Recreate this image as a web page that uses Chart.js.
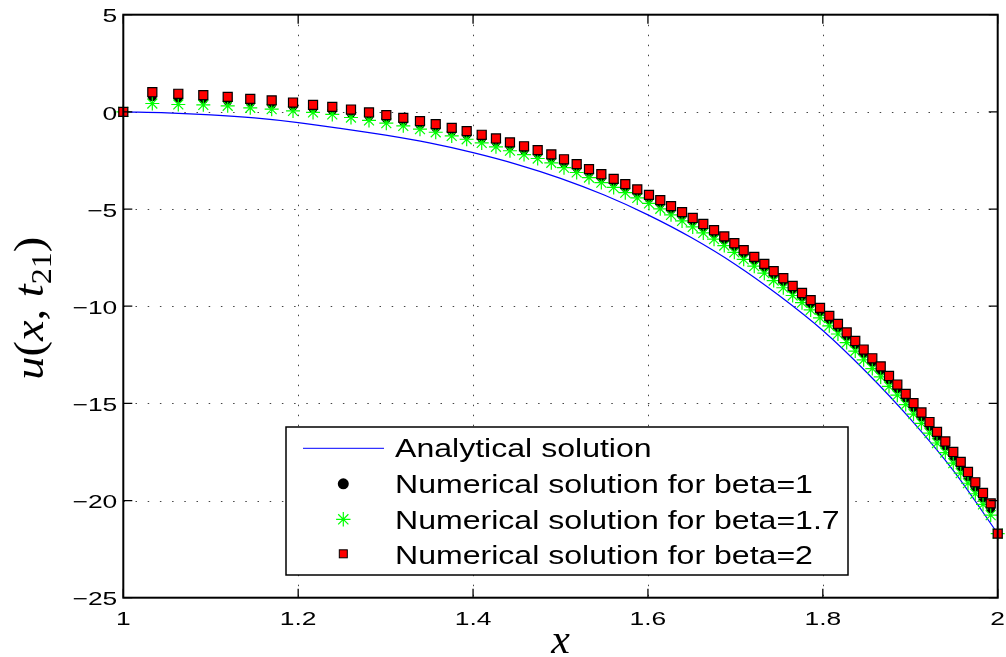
<!DOCTYPE html>
<html>
<head>
<meta charset="utf-8">
<script src="https://cdn.jsdelivr.net/npm/chart.js@4.4.0/dist/chart.umd.min.js"></script>
<style>
html, body { margin: 0; padding: 0; background: #fff; }
#wrap { width: 1006px; height: 657px; position: relative; }
</style>
</head>
<body>
<div id="wrap"><canvas id="uChart"></canvas></div>
<script>
// grid nodes of the numerical schemes
var xNodes = [1,
  1.0332, 1.0629, 1.0915, 1.1194, 1.1452, 1.1697, 1.1941, 1.2170, 1.2390,
  1.2604, 1.2810, 1.3008, 1.3202, 1.3393, 1.3573, 1.3756, 1.3927, 1.4099, 1.4262,
  1.4422, 1.4583, 1.4739, 1.4895, 1.5040, 1.5185, 1.5326, 1.5467, 1.5608, 1.5741,
  1.5878, 1.6012, 1.6141, 1.6264, 1.6390, 1.6512, 1.6633, 1.6756, 1.6873, 1.6988,
  1.7095, 1.7216, 1.7331, 1.7438, 1.7548, 1.7655, 1.7762, 1.7861, 1.7968, 1.8074,
  1.8173, 1.8273, 1.8371, 1.8467, 1.8566, 1.8662, 1.8757, 1.8852, 1.8948, 1.9037,
  1.9128, 1.9220, 1.9306, 1.9401, 1.9492, 1.9577, 1.9660, 1.9744, 1.9832, 1.9920,
  2];

var uBeta1 = [0,
  0.78, 0.70, 0.63, 0.55, 0.46, 0.38, 0.28, 0.17, 0.07,
  -0.07, -0.22, -0.36, -0.50, -0.67, -0.82, -1.01, -1.18, -1.37, -1.56,
  -1.76, -1.96, -2.16, -2.38, -2.63, -2.88, -3.14, -3.40, -3.64, -3.91,
  -4.18, -4.46, -4.73, -5.04, -5.35, -5.65, -5.96, -6.28, -6.60, -6.95,
  -7.31, -7.65, -8.01, -8.39, -8.76, -9.16, -9.52, -9.89, -10.29, -10.70,
  -11.11, -11.55, -11.99, -12.44, -12.89, -13.31, -13.80, -14.25, -14.73, -15.21,
  -15.70, -16.19, -16.70, -17.20, -17.74, -18.26, -18.78, -19.32, -19.87, -20.42,
  -21.7];

var uBeta17 = [0,
  0.43, 0.38, 0.36, 0.31, 0.21, 0.14, 0.05, -0.03, -0.13,
  -0.29, -0.44, -0.58, -0.72, -0.89, -1.05, -1.24, -1.41, -1.60, -1.80,
  -2.00, -2.20, -2.40, -2.62, -2.87, -3.12, -3.38, -3.64, -3.89, -4.16,
  -4.43, -4.71, -4.99, -5.30, -5.61, -5.92, -6.23, -6.55, -6.88, -7.23,
  -7.59, -7.94, -8.30, -8.68, -9.05, -9.45, -9.82, -10.19, -10.60, -11.01,
  -11.43, -11.87, -12.31, -12.76, -13.21, -13.64, -14.13, -14.58, -15.06, -15.55,
  -16.03, -16.53, -17.04, -17.53, -18.08, -18.59, -19.11, -19.65, -20.20, -20.75,
  -21.7];

var uBeta2 = [0,
  1.01, 0.93, 0.86, 0.77, 0.67, 0.59, 0.48, 0.36, 0.26,
  0.12, -0.03, -0.17, -0.31, -0.48, -0.63, -0.82, -0.99, -1.18, -1.37,
  -1.57, -1.77, -1.97, -2.19, -2.44, -2.69, -2.95, -3.21, -3.45, -3.72,
  -3.99, -4.27, -4.54, -4.85, -5.16, -5.46, -5.77, -6.09, -6.41, -6.76,
  -7.12, -7.46, -7.82, -8.20, -8.56, -8.96, -9.32, -9.69, -10.09, -10.50,
  -10.91, -11.35, -11.79, -12.23, -12.68, -13.10, -13.59, -14.03, -14.51, -14.99,
  -15.47, -15.96, -16.47, -16.96, -17.50, -18.01, -18.53, -19.06, -19.61, -20.15,
  -21.7];

// analytical solution, sampled off the blue curve
var xExact = [1, 1.05, 1.1, 1.15, 1.2, 1.25, 1.3, 1.35, 1.4, 1.45, 1.5,
  1.55, 1.6, 1.65, 1.7, 1.75, 1.8, 1.85, 1.9, 1.95, 2];
var uExact = [0, -0.05, -0.15, -0.31, -0.55, -0.86, -1.20, -1.60, -2.10, -2.70, -3.42,
  -4.28, -5.30, -6.48, -7.85, -9.45, -11.25, -13.40, -15.80, -18.50, -21.7];

var xTicks = [1, 1.2, 1.4, 1.6, 1.8, 2];
var xTickLabels = ['1', '1.2', '1.4', '1.6', '1.8', '2'];
var yTicks = [5, 0, -5, -10, -15, -20, -25];
var yTickLabels = ['5', '0', '\u22125', '\u221210', '\u221215', '\u221220', '\u221225'];

var legendLabels = ['Analytical solution', 'Numerical solution for beta=1',
  'Numerical solution for beta=1.7', 'Numerical solution for beta=2'];

function toPoints(xs, ys) {
  var pts = [];
  for (var i = 0; i < xs.length; i++) pts.push({x: xs[i], y: ys[i]});
  return pts;
}

function stretchText(ctx, txt, x, y, font, align, sx) {
  ctx.save();
  ctx.font = font;
  ctx.translate(x, y);
  ctx.scale(sx, 1);
  ctx.textAlign = align;
  ctx.textBaseline = 'alphabetic';
  ctx.fillStyle = '#000';
  ctx.fillText(txt, 0, 0);
  ctx.restore();
}

function dotted(ctx, x1, y1, x2, y2, dash) {
  ctx.beginPath();
  ctx.setLineDash(dash);
  ctx.moveTo(x1, y1);
  ctx.lineTo(x2, y2);
  ctx.stroke();
}

var gridPlugin = {
  id: 'matlabGrid',
  beforeDatasetsDraw: function(chart) {
    var ctx = chart.ctx, a = chart.chartArea;
    var sx = chart.scales.x, sy = chart.scales.y;
    ctx.save();
    ctx.strokeStyle = '#444';
    ctx.lineWidth = 1;
    for (var i = 1; i < xTicks.length - 1; i++) {
      var px = Math.round(sx.getPixelForValue(xTicks[i])) + 0.5;
      dotted(ctx, px, a.top, px, a.bottom, [1.5, 8.5]);
    }
    for (var j = 1; j < yTicks.length - 1; j++) {
      var py = Math.round(sy.getPixelForValue(yTicks[j])) + 0.5;
      dotted(ctx, a.left, py, a.right, py, [1.5, 10.7]);
    }
    ctx.restore();
  },
  afterDatasetsDraw: function(chart) {
    var ctx = chart.ctx, a = chart.chartArea;
    var sx = chart.scales.x, sy = chart.scales.y;
    var tl = 9;
    ctx.save();
    ctx.setLineDash([]);
    ctx.strokeStyle = '#000';
    ctx.lineWidth = 1.3;
    for (var i = 0; i < xTicks.length; i++) {
      var px = sx.getPixelForValue(xTicks[i]);
      ctx.beginPath();
      ctx.moveTo(px, a.bottom); ctx.lineTo(px, a.bottom - tl);
      ctx.moveTo(px, a.top); ctx.lineTo(px, a.top + tl);
      ctx.stroke();
      stretchText(ctx, xTickLabels[i], px, a.bottom + 27.5, '18.6px "Liberation Sans", Arial, sans-serif', 'center', 1.42);
    }
    for (var j = 0; j < yTicks.length; j++) {
      var py = sy.getPixelForValue(yTicks[j]);
      ctx.beginPath();
      ctx.moveTo(a.left, py); ctx.lineTo(a.left + tl, py);
      ctx.moveTo(a.right, py); ctx.lineTo(a.right - tl, py);
      ctx.stroke();
      stretchText(ctx, yTickLabels[j], a.left - 6, py + 7.7, '18.6px "Liberation Sans", Arial, sans-serif', 'right', 1.42);
    }
    ctx.lineWidth = 2;
    ctx.strokeRect(a.left, a.top, a.right - a.left, a.bottom - a.top);

    // axis labels
    var cx = (a.left + a.right) / 2, cy = (a.top + a.bottom) / 2;
    ctx.fillStyle = '#000';
    ctx.font = 'italic 42px "Liberation Serif", serif';
    ctx.textAlign = 'center';
    ctx.textBaseline = 'alphabetic';
    ctx.fillText('x', cx, 653);

    var ital = 'italic 42px "Liberation Serif", serif';
    var upr = '42px "Liberation Serif", serif';
    var subf = '29px "Liberation Serif", serif';
    var parts = [['u', ital, 0], ['(', upr, 0], ['x', ital, 0], [',', upr, 0], [' ', upr, 0],
      ['t', ital, 0], ['21', subf, 8], [')', upr, 0]];
    var total = 0;
    parts.forEach(function(p) { ctx.font = p[1]; p.push(ctx.measureText(p[0]).width); total += p[3]; });
    var k = 143 / total;
    ctx.save();
    ctx.translate(43, cy + 2);
    ctx.rotate(-Math.PI / 2);
    ctx.scale(k, 1);
    ctx.textAlign = 'left';
    var pos = -total / 2;
    parts.forEach(function(p) {
      ctx.font = p[1];
      ctx.fillText(p[0], pos, p[2]);
      pos += p[3];
    });
    ctx.restore();
    ctx.restore();
  },
  afterDraw: function(chart) {
    var ctx = chart.ctx;
    var bx = 286, by = 427, bw = 562, bh = 148;
    ctx.save();
    ctx.setLineDash([]);
    ctx.fillStyle = '#fff';
    ctx.fillRect(bx, by, bw, bh);
    ctx.strokeStyle = '#000';
    ctx.lineWidth = 1.5;
    ctx.strokeRect(bx, by, bw, bh);
    var mx = 343.3;
    var rows = [448.3, 483.8, 519.3, 553.8];
    // line sample
    ctx.strokeStyle = '#0000ff';
    ctx.lineWidth = 1;
    ctx.beginPath(); ctx.moveTo(303, rows[0]); ctx.lineTo(384, rows[0]); ctx.stroke();
    // circle
    ctx.fillStyle = '#000';
    ctx.beginPath(); ctx.arc(mx, rows[1], 5.5, 0, Math.PI * 2); ctx.fill();
    // asterisk
    ctx.strokeStyle = '#00ff00';
    ctx.lineWidth = 1.2;
    ctx.beginPath();
    for (var t = 0; t < 4; t++) {
      var ang = t * Math.PI / 4;
      ctx.moveTo(mx - 7.2 * Math.cos(ang), rows[2] - 7.2 * Math.sin(ang));
      ctx.lineTo(mx + 7.2 * Math.cos(ang), rows[2] + 7.2 * Math.sin(ang));
    }
    ctx.stroke();
    // square
    ctx.fillStyle = '#ff0000';
    ctx.fillRect(mx - 4, rows[3] - 4, 8, 8);
    ctx.strokeStyle = '#000';
    ctx.lineWidth = 1;
    ctx.strokeRect(mx - 4, rows[3] - 4, 8, 8);

    var base = [457.3, 493.3, 529, 564.3];
    for (var i = 0; i < legendLabels.length; i++) {
      stretchText(ctx, legendLabels[i], 395, base[i], '26.5px "Liberation Sans", Arial, sans-serif', 'left', 1.21);
    }
    ctx.restore();
  }
};

var ctx = document.getElementById('uChart');

new Chart(ctx, {
  type: 'scatter',
  data: {
    datasets: [{
      label: legendLabels[0],
      data: toPoints(xExact, uExact),
      showLine: true,
      borderColor: '#0000ff',
      borderWidth: 1.2,
      pointRadius: 0,
      cubicInterpolationMode: 'monotone',
      order: 3,
      clip: false
    }, {
      label: legendLabels[1],
      data: toPoints(xNodes, uBeta1),
      pointStyle: 'circle',
      pointRadius: 4.5,
      backgroundColor: '#000',
      borderColor: '#000',
      borderWidth: 0,
      order: 2,
      clip: false
    }, {
      label: legendLabels[2],
      data: toPoints(xNodes, uBeta17),
      pointStyle: 'star',
      pointRadius: 7,
      borderColor: '#00ff00',
      backgroundColor: '#00ff00',
      borderWidth: 1.2,
      order: 1,
      clip: false
    }, {
      label: legendLabels[3],
      data: toPoints(xNodes, uBeta2),
      pointStyle: 'rect',
      pointRadius: 6.4,
      backgroundColor: '#ff0000',
      borderColor: '#000',
      borderWidth: 1.2,
      order: 0,
      clip: false
    }]
  },
  options: {
    responsive: true,
    maintainAspectRatio: false,
    animation: false,
    events: [],
    layout: { padding: { left: 0, right: 8.3, top: 14.7, bottom: 0 } },
    plugins: { legend: { display: false }, tooltip: { enabled: false } },
    scales: {
      x: {
        type: 'linear', min: 1, max: 2,
        grid: { display: false },
        border: { display: false },
        ticks: { display: false },
        afterFit: function(s) { s.height = 59.3; }
      },
      y: {
        type: 'linear', min: -25, max: 5,
        grid: { display: false },
        border: { display: false },
        ticks: { display: false },
        afterFit: function(s) { s.width = 123.3; }
      }
    }
  },
  plugins: [gridPlugin]
});
</script>
</body>
</html>
